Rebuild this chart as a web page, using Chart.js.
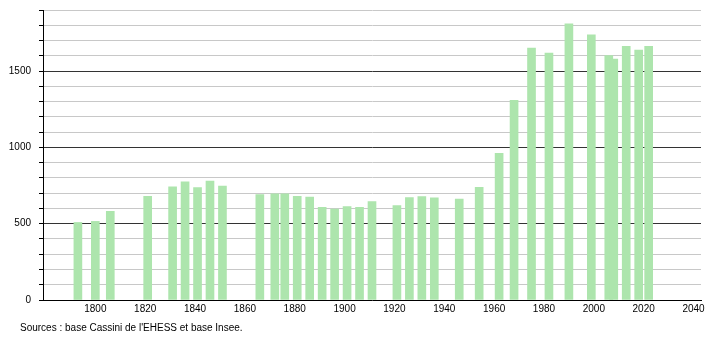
<!DOCTYPE html>
<html>
<head>
<meta charset="utf-8">
<script src="https://cdn.jsdelivr.net/npm/chart.js@4.4.1/dist/chart.umd.min.js"></script>
<style>
    body { margin: 0; background: #fff; }
    #wrap { position: relative; width: 710px; height: 340px; }
    #sources { position: absolute; left: 20px; top: 322px; font: 10px "Liberation Sans", Arial, sans-serif; color: #000; white-space: nowrap; }
</style>
</head>
<body>
<div id="wrap">
    <canvas id="popChart" width="710" height="340"></canvas>
    <div id="sources">Sources : base Cassini de l'EHESS et base Insee.</div>
</div>
<script>
const years = [1793, 1800, 1806, 1821, 1831, 1836, 1841, 1846, 1851, 1866, 1872, 1876, 1881, 1886, 1891, 1896,
    1901, 1906, 1911, 1921, 1926, 1931, 1936, 1946, 1954, 1962, 1968, 1975, 1982, 1990, 1999, 2006, 2008,
    2013, 2018, 2022];
const population = [508, 515, 581, 680, 741, 774, 737, 779, 746, 691, 695, 695, 680, 675, 607, 596,
    612, 607, 645, 618, 671, 678, 670, 662, 739, 961, 1309, 1651, 1618, 1809, 1737, 1601, 1579,
    1662, 1638, 1662];
const xTicks = [1800, 1820, 1840, 1860, 1880, 1900, 1920, 1940, 1960, 1980, 2000, 2020, 2040];
const yTicks = [0, 100, 200, 300, 400, 500, 600, 700, 800, 900, 1000, 1100, 1200, 1300, 1400, 1500, 1600, 1700, 1800, 1900];
const yLabels = [0, 500, 1000, 1500];

const font = { family: '"Liberation Sans", Arial, sans-serif', size: 10 };

const ctx = document.getElementById('popChart').getContext('2d');
new Chart(ctx, {
    type: 'bar',
    data: {
        datasets: [{
            data: years.map((y, i) => ({ x: y, y: population[i] })),
            backgroundColor: '#ade5ad',
            borderWidth: 0,
            barThickness: 8,
            grouped: false
        }]
    },
    options: {
        responsive: false,
        animation: false,
        layout: { padding: { top: 10, right: 9, left: 0, bottom: 0 } },
        plugins: {
            legend: { display: false },
            tooltip: { enabled: false }
        },
        scales: {
            x: {
                type: 'linear',
                offset: false,
                min: 1779,
                max: 2043,
                afterBuildTicks: axis => { axis.ticks = xTicks.map(v => ({ value: v })); },
                afterFit: axis => { axis.height = 40; axis.paddingLeft = 0; axis.paddingRight = 0; },
                grid: { display: false, drawTicks: false, offset: false },
                border: { display: true, color: '#000', width: 1 },
                ticks: { color: '#000', font: font, padding: 3, maxRotation: 0, autoSkip: false,
                    callback: v => String(v) }
            },
            y: {
                min: 0,
                max: 1900,
                afterBuildTicks: axis => { axis.ticks = yTicks.map(v => ({ value: v })); },
                afterFit: axis => { axis.width = 43; axis.paddingTop = 0; axis.paddingBottom = 0; },
                grid: {
                    color: c => (yLabels.includes(c.tick.value) && c.tick.value !== 0) ? '#333' : '#c8c8c8',
                    tickColor: '#000',
                    tickLength: 4,
                    drawTicks: true
                },
                border: { display: true, color: '#000', width: 1 },
                ticks: { color: '#000', font: font, padding: 8, autoSkip: false,
                    callback: v => yLabels.includes(v) ? String(v) : '' }
            }
        }
    }
});
</script>
</body>
</html>
